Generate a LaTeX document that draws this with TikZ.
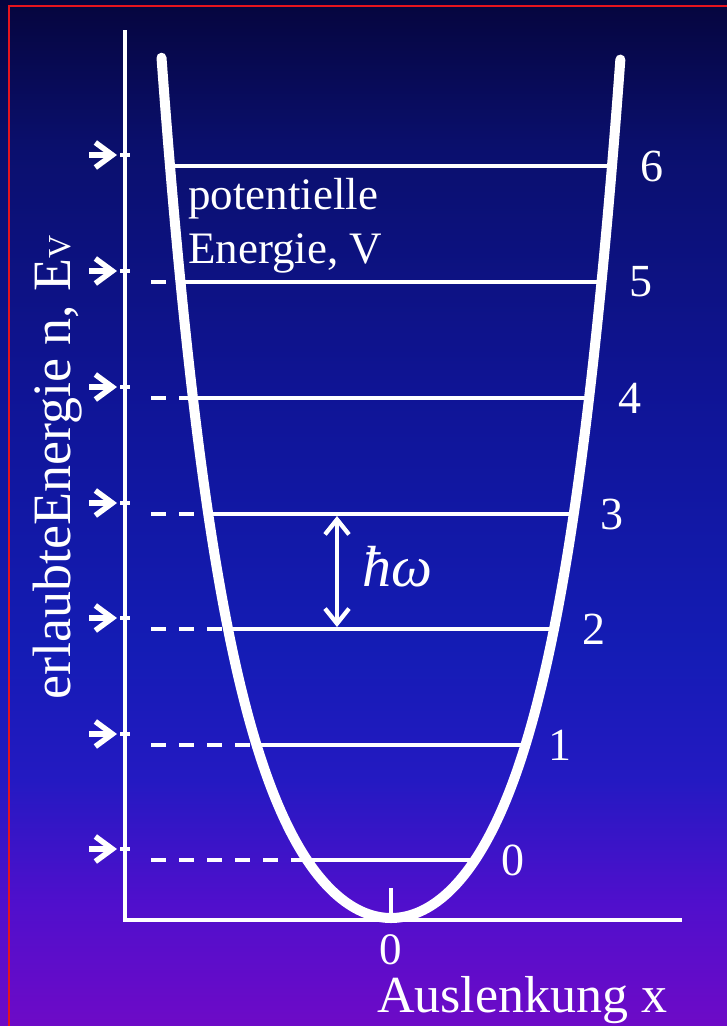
\documentclass[tikz,border=0pt]{standalone}
\usepackage{fontspec}
\setmainfont{Liberation Serif}
\usetikzlibrary{arrows.meta}
\definecolor{frame}{RGB}{230,20,30}
\pgfdeclareverticalshading{bgshade}{100bp}{rgb(0bp)=(0.43,0.04,0.78); rgb(25bp)=(0.43,0.04,0.78); rgb(31.1bp)=(0.31,0.06,0.80); rgb(37bp)=(0.14,0.10,0.76); rgb(43.3bp)=(0.08,0.11,0.71); rgb(55.5bp)=(0.06,0.08,0.59); rgb(67.7bp)=(0.04,0.06,0.43); rgb(75bp)=(0.02,0.02,0.24); rgb(100bp)=(0.02,0.02,0.24)}

\begin{document}
\begin{tikzpicture}[x=1pt, y=-1pt,
    every node/.style={text=white, inner sep=0pt},
    lvl/.style={white, line width=3.5pt},
    dashlvl/.style={white, line width=4pt, dash pattern=on 15pt off 13pt},
    curve/.style={white, line width=10pt, line cap=round, line join=round},
    axisline/.style={white, line width=4.3pt},
    markarrow/.style={white, line width=5.5pt, -{Straight Barb[length=17pt,width=25pt]}},
    numlab/.style={font=\fontsize{46}{50}\selectfont}]
    \useasboundingbox (0,0) rectangle (727,1026);
    \shade[shading=bgshade] (0,0) rectangle (727,1026);
    \draw[frame, line width=2pt] (9,1030) -- (9,6) -- (730,6);
    % axes
    \coordinate (O) at (125,920);
    \coordinate (Ytop) at (125,30);
    \coordinate (Xend) at (682,920);
    \draw[axisline] (Ytop) -- (O) -- (Xend);
    \coordinate (Zup) at (391,888);
    \coordinate (Zdn) at (391,920);
    \draw[white, line width=3.5pt] (Zup) -- (Zdn);
    % potential
    \draw[curve] plot[domain=-2.295:2.295, samples=141, smooth] ({391+100*\x}, {918-\x*\x*(75.586+\x*\x*(8.2466+1.5975*\x*\x))});
    % levels
    \foreach \n/\y/\w/\lx in {0/860/84/513,1/745/135/560,2/629/163/594,3/514/183/612,4/398/198/630,5/282/211/641,6/166/221/652}{
        \coordinate (L\n) at (391-\w,\y);
        \coordinate (R\n) at (391+\w,\y);
        \coordinate (D\n) at (151,\y);
        \coordinate (A\n) at (89,\y-11);
        \coordinate (P\n) at (117,\y-11);
        \coordinate (Ta\n) at (120,\y-11);
        \coordinate (Tb\n) at (130,\y-11);
        \draw[lvl] (L\n) -- (R\n);
        \ifnum\n<6 \draw[dashlvl] (D\n) -- (L\n); \fi
        \draw[markarrow] (A\n) -- (P\n);
        \draw[white, line width=4pt] (Ta\n) -- (Tb\n);
        \node[numlab] (num\n) at (\lx,\y) {\n};
    }
    % quantum
    \coordinate (Qtop) at (337,516);
    \coordinate (Qbot) at (337,627);
    \draw[white, line width=4.3pt, {Straight Barb[length=15pt,width=24pt]}-{Straight Barb[length=15pt,width=24pt]}] (Qtop) -- (Qbot);
    \node[anchor=west, font=\fontsize{58}{60}\selectfont\itshape] (hw) at (362,567) {ħω};
    % texts
    \node[anchor=north west, align=left, font=\fontsize{45}{54}\selectfont] (pot) at (188,178) {potentielle\\Energie, V};
    \node[anchor=base west, rotate=90, font=\fontsize{54}{58}\selectfont] (ylab) at (70,700) {erlaubteEnergie n, E{\fontsize{32}{32}\selectfont V}};
    \node[font=\fontsize{45}{50}\selectfont] (zero) at (391,950) {0};
    \node[anchor=base west, font=\fontsize{52}{56}\selectfont] (xlab) at (377,1012) {Auslenkung x};
\end{tikzpicture}
\end{document}
